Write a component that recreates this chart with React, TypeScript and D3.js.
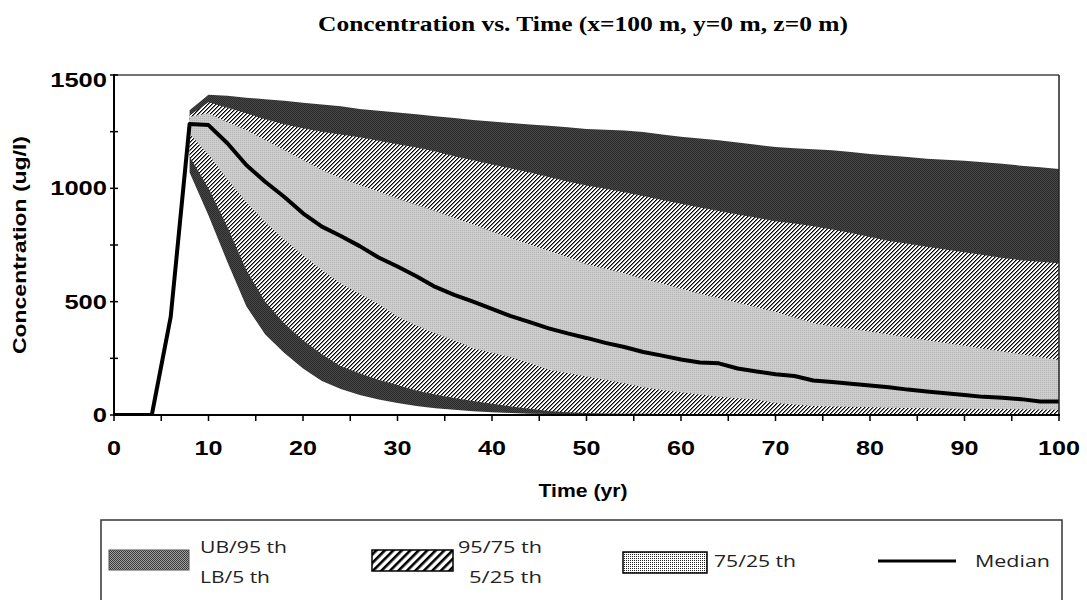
import React from "react";
import * as d3 from "d3";

// ---- data ----
const bandTimes = d3.range(8, 101, 2); // 8..100 step 2
const upperBound = [1345,1413,1408,1400,1393,1386,1378,1370,1362,1350,1342,1335,1327,1318,1310,1302,1295,1288,1282,1276,1270,1262,1258,1255,1248,1238,1228,1220,1212,1202,1192,1182,1177,1172,1168,1160,1152,1145,1138,1130,1126,1122,1115,1108,1100,1093,1085];
const p95 = [1321,1380,1355,1331,1305,1283,1265,1250,1238,1225,1210,1195,1180,1162,1142,1124,1105,1088,1070,1050,1030,1012,998,983,966,948,932,915,900,885,870,855,845,833,818,803,785,768,755,742,730,718,706,693,683,676,669];
const p75 = [1316,1331,1292,1257,1213,1169,1125,1081,1044,1015,985,955,928,900,870,840,810,780,752,725,697,665,645,625,600,580,557,535,515,495,475,455,430,405,390,380,368,355,342,330,318,305,292,280,268,255,243];
const p25 = [1240,1150,1040,940,850,775,705,640,580,535,490,435,395,360,330,295,275,255,230,200,185,170,155,140,122,110,100,90,80,74,68,53,46,40,38,36,34,32,31,30,29,28,27,26,25,24,23];
const p05 = [1140,1000,830,640,500,405,330,268,215,184,155,132,108,90,75,62,50,38,28,18,12,9,7,6,5,4,4,3,3,3,2,2,2,2,2,2,2,2,2,1,1,1,1,1,1,1,1];
const lowerBound = [1070,880,675,480,355,275,205,150,115,88,68,53,40,30,23,17,12,9,6,4,3,2,1,1,1,0,0,0,0,0,0,0,0,0,0,0,0,0,0,0,0,0,0,0,0,0,0];
const medianTimes = d3.range(0, 101, 2);
const median = [0,0,0,433,1284,1279,1199,1103,1029,963,890,831,790,745,695,655,612,565,530,500,468,436,410,382,360,340,318,300,278,262,245,232,228,205,192,180,172,152,146,138,130,122,112,104,96,88,80,76,70,60,60];

const xTickLabels = [0, 10, 20, 30, 40, 50, 60, 70, 80, 90, 100];
const xMinorTicks = d3.range(0, 101, 5);
const yTickLabels = [0, 500, 1000, 1500];
const yMinorTicks = d3.range(0, 1501, 250);

const title = "Concentration vs. Time (x=100 m, y=0 m, z=0 m)";
const xTitle = "Time (yr)";
const yTitle = "Concentration (ug/l)";

export default function App() {
  const x = d3.scaleLinear().domain([0, 100]).range([114, 1059]);
  const y = d3.scaleLinear().domain([0, 1500]).range([415, 75]);

  const band = (hi: number[], lo: number[]) =>
    d3
      .area<number>()
      .x((t) => x(t))
      .y0((_, i) => y(lo[i]))
      .y1((_, i) => y(hi[i]))(bandTimes) || "";

  const medLine =
    d3
      .line<number>()
      .x((t) => x(t))
      .y((_, i) => y(median[i]))(medianTimes) || "";

  const sans = "'Liberation Sans', Arial, sans-serif";
  const legendFont = "'Open Sans', 'Liberation Sans', sans-serif";

  return (
    <svg
      width={1087}
      height={600}
      style={{ position: "absolute", left: 0, top: 0, background: "#fff" }}
    >
      <defs>
        <pattern id="darkPat" width={2} height={2} patternUnits="userSpaceOnUse">
          <rect width={2} height={2} fill="#464646" />
          <rect width={1} height={1} fill="#2c2c2c" />
          <rect x={1} y={1} width={1} height={1} fill="#2c2c2c" />
        </pattern>
        <pattern id="hatchPat" width={4} height={4} patternUnits="userSpaceOnUse">
          <rect width={4} height={4} fill="#fff" />
          <rect x={3} y={0} width={1} height={1} fill="#000" />
          <rect x={2} y={1} width={1} height={1} fill="#000" />
          <rect x={1} y={2} width={1} height={1} fill="#000" />
          <rect x={0} y={3} width={1} height={1} fill="#000" />
          <rect x={0} y={0} width={1} height={1} fill="#777" />
          <rect x={3} y={1} width={1} height={1} fill="#777" />
          <rect x={2} y={2} width={1} height={1} fill="#777" />
          <rect x={1} y={3} width={1} height={1} fill="#777" />
        </pattern>
        <pattern id="grayPat" width={2} height={2} patternUnits="userSpaceOnUse">
          <rect width={2} height={2} fill="#cdcdcd" />
          <rect width={1} height={1} fill="#b6b6b6" />
        </pattern>
        <pattern id="legDark" width={2} height={2} patternUnits="userSpaceOnUse">
          <rect width={2} height={2} fill="#a0a0a0" />
          <rect width={1} height={1} fill="#3a3a3a" />
          <rect x={1} y={1} width={1} height={1} fill="#3a3a3a" />
        </pattern>
        <pattern
          id="legHatch"
          width={6}
          height={6}
          patternUnits="userSpaceOnUse"
          patternTransform="rotate(45)"
        >
          <rect width={6} height={6} fill="#fff" />
          <rect x={0} y={0} width={2.6} height={6} fill="#000" />
        </pattern>
        <pattern id="legDots" width={2} height={2} patternUnits="userSpaceOnUse">
          <rect width={2} height={2} fill="#fff" />
          <rect width={1} height={1} fill="#222" />
        </pattern>
        <clipPath id="plotClip">
          <rect x={114} y={75} width={945} height={340} />
        </clipPath>
      </defs>

      {/* title */}
      <text
        x={318}
        y={31}
        fontFamily="'Liberation Serif', 'Times New Roman', serif"
        fontWeight="bold"
        fontSize={22}
        textLength={530}
        lengthAdjust="spacingAndGlyphs"
      >
        {title}
      </text>

      {/* bands */}
      <g clipPath="url(#plotClip)">
        <path d={band(upperBound, lowerBound)} fill="url(#darkPat)" />
        <path d={band(p95, p05)} fill="url(#hatchPat)" />
        <path d={band(p75, p25)} fill="url(#grayPat)" />
        <path
          d={medLine}
          fill="none"
          stroke="#000"
          strokeWidth={4}
          strokeLinejoin="round"
        />
      </g>

      {/* frame */}
      <line x1={114} x2={1059} y1={75} y2={75} stroke="#444" strokeWidth={1.5} />
      <line x1={1059} x2={1059} y1={75} y2={415} stroke="#222" strokeWidth={1.5} />
      <line x1={114} x2={114} y1={74} y2={416} stroke="#000" strokeWidth={2} />
      <line x1={113} x2={1060} y1={415} y2={415} stroke="#000" strokeWidth={2} />

      {/* y ticks */}
      {yMinorTicks.map((v) => (
        <line key={"yt" + v} x1={110} x2={118} y1={y(v)} y2={y(v)} stroke="#000" strokeWidth={1.5} />
      ))}
      {yTickLabels.map((v) => {
        const s = String(v);
        return (
          <text
            key={"yl" + v}
            x={107}
            y={Math.max(y(v), 80) + 7}
            textAnchor="end"
            fontFamily={sans}
            fontWeight="bold"
            fontSize={20}
            textLength={s.length * 14.2}
            lengthAdjust="spacingAndGlyphs"
          >
            {s}
          </text>
        );
      })}

      {/* x ticks */}
      {xMinorTicks.map((v) => (
        <line key={"xt" + v} x1={x(v)} x2={x(v)} y1={415} y2={421} stroke="#000" strokeWidth={1.5} />
      ))}
      {xTickLabels.map((v) => {
        const s = String(v);
        return (
          <text
            key={"xl" + v}
            x={x(v)}
            y={455}
            textAnchor="middle"
            fontFamily={sans}
            fontWeight="bold"
            fontSize={20}
            textLength={s.length * 14}
            lengthAdjust="spacingAndGlyphs"
          >
            {s}
          </text>
        );
      })}

      {/* axis titles */}
      <text
        x={583}
        y={497}
        textAnchor="middle"
        fontFamily={sans}
        fontWeight="bold"
        fontSize={18}
        textLength={89}
        lengthAdjust="spacingAndGlyphs"
      >
        {xTitle}
      </text>
      <text
        transform="translate(26,245) rotate(-90)"
        textAnchor="middle"
        fontFamily={sans}
        fontWeight="bold"
        fontSize={19}
        textLength={218}
        lengthAdjust="spacingAndGlyphs"
      >
        {yTitle}
      </text>

      {/* legend */}
      <rect x={101} y={520} width={961} height={100} fill="none" stroke="#333" strokeWidth={1.5} />
      <rect x={109} y={550} width={80} height={20} fill="url(#legDark)" stroke="#555" strokeWidth={1} />
      <text x={200} y={553} fontFamily={legendFont} fontSize={17} fill="#222" textLength={87} lengthAdjust="spacingAndGlyphs">UB/95 th</text>
      <text x={200} y={583} fontFamily={legendFont} fontSize={17} fill="#222" textLength={70} lengthAdjust="spacingAndGlyphs">LB/5 th</text>

      <rect x={372} y={550} width={81} height={21} fill="url(#legHatch)" stroke="#000" strokeWidth={1.5} />
      <text x={542} y={553} textAnchor="end" fontFamily={legendFont} fontSize={17} fill="#222" textLength={84} lengthAdjust="spacingAndGlyphs">95/75 th</text>
      <text x={542} y={583} textAnchor="end" fontFamily={legendFont} fontSize={17} fill="#222" textLength={73} lengthAdjust="spacingAndGlyphs">5/25 th</text>

      <rect x={623} y={552} width={84} height={21} fill="url(#legDots)" stroke="#000" strokeWidth={1.5} />
      <text x={714} y={567} fontFamily={legendFont} fontSize={17} fill="#222" textLength={82} lengthAdjust="spacingAndGlyphs">75/25 th</text>

      <line x1={878} x2={956} y1={561} y2={561} stroke="#000" strokeWidth={3} />
      <text x={975} y={567} fontFamily={legendFont} fontSize={17} fill="#222" textLength={75} lengthAdjust="spacingAndGlyphs">Median</text>
    </svg>
  );
}
